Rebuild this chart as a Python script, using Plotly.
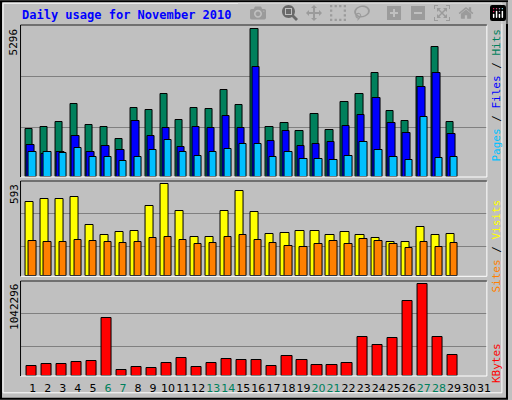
import plotly.graph_objects as go

days = list(range(1, 32))
weekend_days = [6, 7, 13, 14, 20, 21, 27, 28]
hits = [1737,1809,1989,2636,1881,1809,1378,2492,2420,2959,2061,2492,2456,3103,2600,5296,1809,1953,1665,2276,1701,2672,2959,3714,2384,2025,3570,4648,1989]
files = [1162,839,910,1486,910,1126,982,2025,1486,1773,1090,1809,1773,2204,1773,3929,1306,1665,1126,1198,1270,1845,2240,2851,1953,1593,3211,3714,1557]
pages = [910,910,875,1054,731,731,587,731,982,1342,910,767,910,1018,1198,1198,731,910,659,659,623,767,1270,982,731,623,2168,695,731]
visits = [477,496,496,509,329,264,284,290,451,593,419,251,251,419,548,413,271,277,290,290,264,284,264,245,219,219,316,264,271]
sites = [226,219,219,232,226,219,213,219,245,251,232,206,213,251,264,232,213,193,187,206,226,206,239,226,206,181,219,187,213]
kbytes = [109910,132650,132650,155390,166760,655670,64430,98540,87170,144020,200870,98540,144020,189500,178130,178130,109910,223610,178130,121280,121280,144020,439640,348680,428270,848960,1042296,439640,234980]
max_labels = ["5296", "593", "1042296"]

n = len(hits)
x = days[:n]
line = dict(color="black", width=1)
fig = go.Figure()
def bar(y, color, off, w, ax):
    fig.add_trace(go.Bar(x=x, y=y, marker=dict(color=color, line=line),
                         offset=off, width=w, xaxis="x", yaxis=ax, showlegend=False))
bar(hits, "#00805C", -0.51, 0.49, "y")
bar(files, "#0000FF", -0.40, 0.49, "y")
bar(pages, "#00C0FF", -0.25, 0.49, "y")
bar(visits, "#FFFF00", -0.51, 0.55, "y2")
bar(sites, "#FF8000", -0.25, 0.49, "y2")
bar(kbytes, "#FF0000", -0.44, 0.68, "y3")

H = 400.0
def dom(t, b):
    return [1 - b / H, 1 - t / H]

ticktext = [f"<span style='color:#00805C'>{d}</span>" if d in weekend_days else str(d) for d in days]
grid = dict(showgrid=True, gridcolor="#808080", gridwidth=1, showticklabels=False,
            zeroline=False, ticks="", fixedrange=True)
fig.update_layout(
    width=512, height=400, margin=dict(l=0, r=0, t=0, b=0),
    paper_bgcolor="#C0C0C0", plot_bgcolor="#C0C0C0", barmode="overlay", bargap=0,
    font=dict(family="DejaVu Sans", size=11, color="black"),
    xaxis=dict(domain=[20.7/512, 490.7/512], range=[0.19, 31.19], tickvals=days,
               ticktext=ticktext, showgrid=False, zeroline=False, anchor="y3",
               ticks="", tickangle=0, tickfont=dict(size=11), ticklabelstandoff=4),
    yaxis=dict(domain=dom(25, 177), range=[0, 5451], tickvals=[1773, 3606], **grid),
    yaxis2=dict(domain=dom(181, 276.3), range=[0, 615], tickvals=[193, 406], **grid),
    yaxis3=dict(domain=dom(281, 376), range=[0, 1080150], tickvals=[337310, 712520], **grid),
)
for t, b in [(25, 177), (181, 276.3), (281, 376)]:
    fig.add_shape(type="rect", xref="paper", yref="paper", x0=20.7/512, x1=490.7/512,
                  y0=1-b/H, y1=1-t/H, line=dict(color="white", width=1), layer="above")
    fig.add_shape(type="line", xref="paper", yref="paper", x0=20.7/512, x1=490.7/512,
                  y0=1-t/H, y1=1-t/H, line=dict(color="black", width=1))
    fig.add_shape(type="line", xref="paper", yref="paper", x0=20.7/512, x1=20.7/512,
                  y0=1-b/H, y1=1-t/H, line=dict(color="black", width=1))
fig.add_shape(type="rect", xref="paper", yref="paper", x0=0.002, x1=0.998, y0=0.003, y1=0.997,
              line=dict(color="black", width=2))
fig.add_shape(type="rect", xref="paper", yref="paper", x0=0.006, x1=0.988, y0=0.018, y1=0.992,
              line=dict(color="white", width=1))

fig.add_annotation(text="<b>Daily usage for November 2010</b>", x=20/512, y=1-15/H, xref="paper",
                   yref="paper", xanchor="left", yanchor="middle", showarrow=False,
                   font=dict(family="DejaVu Sans Mono", size=12, color="#0000FF"))
for lab, top in zip(max_labels, [26, 182, 282]):
    fig.add_annotation(text=lab, x=14/512, y=1-top/H, xref="paper", yref="paper", textangle=-90,
                       xanchor="center", yanchor="top", showarrow=False,
                       font=dict(family="DejaVu Sans Mono", size=11, color="black"))
mono = dict(family="DejaVu Sans Mono", size=11)
fig.add_annotation(text="<span style='color:#00C0FF'>Pages</span> / <span style='color:#0000FF'>Files</span> / <span style='color:#00805C'>Hits</span>",
                   x=500/512, y=1-27/H, xref="paper", yref="paper", textangle=-90, xanchor="center",
                   yanchor="top", showarrow=False, font=mono)
fig.add_annotation(text="<span style='color:#FF8000'>Sites</span> / <span style='color:#FFFF00'>Visits</span>",
                   x=500/512, y=1-198/H, xref="paper", yref="paper", textangle=-90, xanchor="center",
                   yanchor="top", showarrow=False, font=mono)
fig.add_annotation(text="<span style='color:#FF0000'>KBytes</span>",
                   x=500/512, y=1-341/H, xref="paper", yref="paper", textangle=-90, xanchor="center",
                   yanchor="top", showarrow=False, font=mono)
fig.write_html("out.html")
with open("out.html", "a") as f:
    f.write("<style>html,body{margin:0;padding:0;overflow:hidden;}</style>")
